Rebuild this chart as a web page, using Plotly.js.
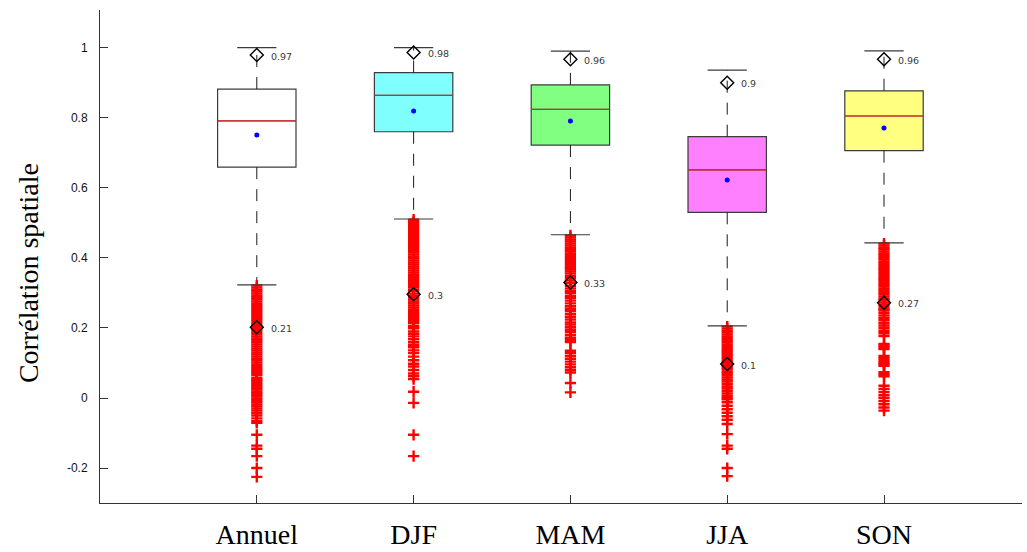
<!DOCTYPE html>
<html>
<head>
<meta charset="utf-8">
<script src="https://cdn.plot.ly/plotly-3.0.1.min.js"></script>
<style>html,body{margin:0;padding:0;background:#fff;}#chart{width:1027px;height:552px;}</style>
</head>
<body>
<div id="chart"></div>
<script>
// ---- data ----
var categories = ['Annuel', 'DJF', 'MAM', 'JJA', 'SON'];
var q1Values = [0.659, 0.760, 0.722, 0.530, 0.706];
var medianValues = [0.791, 0.864, 0.824, 0.651, 0.805];
var q3Values = [0.882, 0.929, 0.894, 0.746, 0.877];
var meanValues = [0.751, 0.819, 0.791, 0.622, 0.771];
var upperWhisker = [1.0, 1.0, 0.99, 0.936, 0.991];
var lowerWhisker = [0.323, 0.511, 0.466, 0.206, 0.443];
var maxValues = [0.979, 0.986, 0.967, 0.900, 0.967];
var maxLabels = ['0.97', '0.98', '0.96', '0.9', '0.96'];
var minValues = [0.202, 0.296, 0.330, 0.097, 0.272];
var minLabels = ['0.21', '0.3', '0.33', '0.1', '0.27'];
var boxColors = ['#ffffff', '#80ffff', '#80ff80', '#ff80ff', '#ffff80'];

var outliersAnnuel = [0.321,0.315,0.309,0.304,0.298,0.292,0.286,0.281,0.275,0.269,0.263,0.257,0.252,0.246,0.240,0.234,0.228,0.223,0.217,0.211,0.205,0.199,0.194,0.188,0.182,0.176,0.170,0.165,0.159,0.153,0.147,0.141,0.136,0.130,0.124,0.118,0.112,0.107,0.101,0.095,0.089,0.083,0.078,0.072,0.066,
  0.058,0.053,0.049,0.043,0.038,0.033,0.028,0.024,0.018,0.014,0.009,0.004,-0.002,-0.008,-0.013,-0.019,-0.024,-0.030,-0.036,-0.043,-0.050,-0.058,-0.066,-0.071,-0.105,-0.136,-0.145,-0.166,-0.200,-0.225];
var outliersDJF = [0.509,0.503,0.497,0.491,0.486,0.480,0.474,0.468,0.462,0.457,0.451,0.445,0.439,0.433,0.428,0.422,0.416,0.410,0.404,0.399,0.393,0.387,0.381,0.375,0.370,0.364,0.358,0.352,0.346,
  0.340,0.334,0.329,0.322,0.317,0.310,0.305,0.298,0.292,0.287,0.281,0.275,0.270,0.264,0.258,0.252,0.246,
  0.240,0.235,0.230,0.225,0.220,
  0.214,0.206,0.199,0.190,0.183,0.176,0.168,0.160,0.152,0.145,0.136,0.128,0.118,0.108,0.098,0.090,0.080,0.070,0.062,0.054,
  0.018,-0.014,-0.105,-0.166];
var outliersMAM = [0.464,0.458,0.452,0.447,0.441,0.435,0.429,0.423,0.418,0.412,0.406,0.400,0.394,0.389,0.383,0.377,0.371,0.367,
  0.361,0.355,0.348,0.342,0.335,0.328,0.320,0.313,0.306,0.300,0.292,0.285,0.278,0.270,0.262,0.255,
  0.248,0.240,0.232,0.224,0.216,0.210,0.202,0.195,0.188,0.180,0.172,0.166,0.160,
  0.135,0.128,0.120,0.112,0.104,0.096,0.088,0.080,0.073,
  0.043,0.016];
var outliersJJA = [0.204,0.198,0.192,0.187,0.181,0.175,0.169,0.163,0.158,0.152,0.146,0.140,0.134,0.129,0.123,0.117,0.111,0.105,0.100,0.094,0.088,0.082,0.076,0.071,0.065,
  0.059,0.053,0.047,0.040,0.033,0.027,0.020,0.013,0.006,0.000,-0.004,
  -0.012,-0.022,-0.032,-0.042,-0.052,-0.062,-0.074,
  -0.103,-0.136,-0.145,-0.200,-0.223];
var outliersSON = [0.441,0.435,0.429,0.424,0.418,0.412,0.406,0.400,0.395,0.389,0.383,0.377,0.371,0.366,0.360,0.354,0.348,0.342,0.337,0.331,0.325,0.319,0.313,0.308,0.302,0.296,0.290,0.284,0.279,0.273,0.267,0.261,0.255,0.250,
  0.243,0.236,0.229,0.222,0.214,0.207,0.200,0.192,0.185,0.177,
  0.154,0.149,0.144,0.140,
  0.120,0.114,0.108,0.102,0.097,0.092,
  0.074,0.068,0.062,
  0.035,0.026,0.017,0.008,0.000,-0.009,-0.018,-0.027,-0.036];
var outlierSets = [outliersAnnuel, outliersDJF, outliersMAM, outliersJJA, outliersSON];

// ---- build traces ----
var positions = categories.map(function (c, i) { return i; });
var boxHalf = 0.25, capHalf = 0.125;
var traces = [];

// whiskers (dashed) drawn first
var wx = [], wy = [];
positions.forEach(function (p, i) {
  wx.push(p, p, null, p, p, null);
  wy.push(q3Values[i], upperWhisker[i], null, q1Values[i], lowerWhisker[i], null);
});
traces.push({type: 'scatter', mode: 'lines', x: wx, y: wy, hoverinfo: 'skip',
  line: {color: '#1a1a1a', width: 1, dash: '12px,10px'}, showlegend: false});

// boxes
positions.forEach(function (p, i) {
  traces.push({type: 'box', x: [p], q1: [q1Values[i]], median: [medianValues[i]], q3: [q3Values[i]],
    lowerfence: [q1Values[i]], upperfence: [q3Values[i]], width: 0.5, whiskerwidth: 0,
    fillcolor: boxColors[i], line: {color: '#3c3c3c', width: 1.2}, boxpoints: false,
    name: categories[i], showlegend: false});
});

// outliers
var ox = [], oy = [];
outlierSets.forEach(function (set, i) { set.forEach(function (v) { ox.push(positions[i]); oy.push(v); }); });
traces.push({type: 'scatter', mode: 'markers', x: ox, y: oy, showlegend: false,
  marker: {symbol: 'cross-thin', size: 8, color: '#ff0000', line: {color: '#ff0000', width: 2.4}}});

// caps
var cx = [], cy = [];
positions.forEach(function (p, i) {
  cx.push(p - capHalf, p + capHalf, null, p - capHalf, p + capHalf, null);
  cy.push(upperWhisker[i], upperWhisker[i], null, lowerWhisker[i], lowerWhisker[i], null);
});
traces.push({type: 'scatter', mode: 'lines', x: cx, y: cy, showlegend: false, hoverinfo: 'skip',
  line: {color: '#3a3a3a', width: 1.2}});

// medians
var mx = [], my = [];
positions.forEach(function (p, i) {
  mx.push(p - boxHalf, p + boxHalf, null);
  my.push(medianValues[i], medianValues[i], null);
});
traces.push({type: 'scatter', mode: 'lines', x: mx, y: my, showlegend: false,
  line: {color: '#ff2020', width: 1}});

// means
traces.push({type: 'scatter', mode: 'markers', x: positions, y: meanValues, showlegend: false,
  marker: {symbol: 'circle', size: 5, color: '#0000ff'}});

// extreme diamonds
var diamondMarker = {symbol: 'diamond-open', size: 10, color: '#000', line: {color: '#000', width: 1.4}};
traces.push({type: 'scatter', mode: 'markers', x: positions, y: maxValues, marker: diamondMarker, showlegend: false});
traces.push({type: 'scatter', mode: 'markers', x: positions, y: minValues, marker: diamondMarker, showlegend: false});

// labels next to the diamonds
var annotations = [];
positions.forEach(function (p, i) {
  [[maxValues[i], maxLabels[i]], [minValues[i], minLabels[i]]].forEach(function (pair) {
    annotations.push({x: p, y: pair[0], xref: 'x', yref: 'y', text: pair[1], showarrow: false,
      xanchor: 'left', yanchor: 'middle', xshift: 12, yshift: -1,
      font: {family: 'DejaVu Sans, Arial, sans-serif', size: 9.5, color: '#3a3a3a'}});
  });
});
annotations.push({text: 'Corrélation spatiale', xref: 'paper', yref: 'paper', x: -0.078, y: 0.4665,
  xanchor: 'center', yanchor: 'middle', textangle: -90, showarrow: false,
  font: {family: 'Liberation Serif, Times New Roman, serif', size: 28, color: '#000'}});

var layout = {
  width: 1027, height: 552,
  margin: {l: 100, r: 5, t: 10, b: 49},
  paper_bgcolor: '#fff', plot_bgcolor: '#fff',
  showlegend: false, boxmode: 'overlay',
  xaxis: {range: [-1, 4.88], tickvals: positions, ticktext: categories,
    showgrid: false, zeroline: false, showline: true, linecolor: '#333', linewidth: 1,
    ticks: 'inside', ticklen: 8, tickcolor: '#333', ticklabelstandoff: 6,
    tickfont: {family: 'Liberation Serif, Times New Roman, serif', size: 28, color: '#000'}},
  yaxis: {range: [-0.2997, 1.1076], tickvals: [-0.2, 0, 0.2, 0.4, 0.6, 0.8, 1], ticktext: ['-0.2', '0', '0.2', '0.4', '0.6', '0.8', '1'],
    showgrid: false, zeroline: false, showline: true, linecolor: '#333', linewidth: 1,
    ticks: 'inside', ticklen: 8, tickcolor: '#333', ticklabelstandoff: 9,
    tickfont: {family: 'Liberation Sans, Arial, sans-serif', size: 12, color: '#111'}},
  annotations: annotations
};

Plotly.newPlot('chart', traces, layout, {displayModeBar: false, staticPlot: true});
</script>
</body>
</html>
